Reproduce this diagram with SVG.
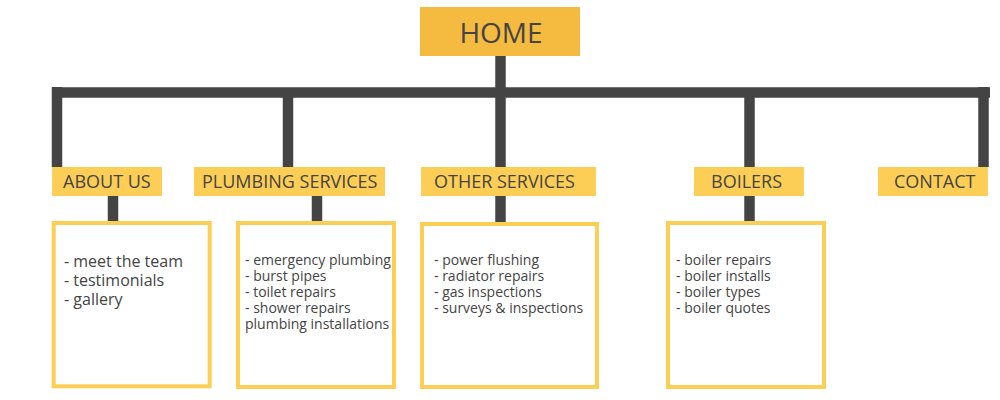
<svg xmlns="http://www.w3.org/2000/svg" width="1000" height="400" viewBox="0 0 1000 400">
<style>
  .wire{stroke:#444444;stroke-width:10.5;fill:none;stroke-linecap:butt}
  .label{fill:#FDCE55}
  .home{fill:#F5BB41}
  .box{fill:#FFFFFF;stroke:#FDCE55;stroke-width:4}
  text{font-family:"Open Sans","Noto Sans","Liberation Sans",sans-serif;fill:#444444}
  .lt{font-size:18px}
  .ht{font-size:28px}
  .big{font-size:16px}
  .sm{font-size:14px}
</style>
<rect width="1000" height="400" fill="#FFFFFF"/>
<g id="connectors">
  <line class="wire" x1="52" y1="92.5" x2="990" y2="92.5"/>
  <line class="wire" x1="500.5" y1="55" x2="500.5" y2="167"/>
  <line class="wire" x1="57" y1="87" x2="57" y2="167"/>
  <line class="wire" x1="288" y1="92" x2="288" y2="167"/>
  <line class="wire" x1="749.5" y1="92" x2="749.5" y2="167"/>
  <line class="wire" x1="983.5" y1="87" x2="983.5" y2="167"/>
  <line class="wire" x1="113" y1="195" x2="113" y2="222"/>
  <line class="wire" x1="317" y1="195" x2="317" y2="222"/>
  <line class="wire" x1="500.5" y1="195" x2="500.5" y2="222"/>
  <line class="wire" x1="749.5" y1="195" x2="749.5" y2="222"/>
</g>
<g id="home">
  <rect class="home" x="420" y="7" width="160" height="49"/>
  <text class="ht" x="501" y="43" text-anchor="middle">HOME</text>
</g>
<g id="about-us">
  <rect class="label" x="52" y="167" width="110" height="29"/>
  <text class="lt" x="63" y="188">ABOUT US</text>
</g>
<g id="plumbing-services">
  <rect class="label" x="194" y="167" width="191" height="29"/>
  <text class="lt" x="202" y="188">PLUMBING SERVICES</text>
</g>
<g id="other-services">
  <rect class="label" x="421" y="167" width="175" height="29"/>
  <text class="lt" x="434" y="188">OTHER SERVICES</text>
</g>
<g id="boilers">
  <rect class="label" x="694" y="167" width="110" height="29"/>
  <text class="lt" x="711" y="188">BOILERS</text>
</g>
<g id="contact">
  <rect class="label" x="878" y="167" width="110" height="29"/>
  <text class="lt" x="894" y="188">CONTACT</text>
</g>
<g id="about-us-list">
  <rect class="box" x="53.7" y="223" width="156" height="163.3"/>
  <text class="big" x="64" y="267">- meet the team</text>
  <text class="big" x="64" y="286">- testimonials</text>
  <text class="big" x="64" y="305">- gallery</text>
</g>
<g id="plumbing-services-list">
  <rect class="box" x="238" y="223" width="156" height="164"/>
  <text class="sm" x="245" y="265">- emergency plumbing</text>
  <text class="sm" x="245" y="281">- burst pipes</text>
  <text class="sm" x="245" y="297">- toilet repairs</text>
  <text class="sm" x="245" y="313">- shower repairs</text>
  <text class="sm" x="245" y="329">plumbing installations</text>
</g>
<g id="other-services-list">
  <rect class="box" x="422" y="224" width="175" height="163"/>
  <text class="sm" x="434" y="265">- power flushing</text>
  <text class="sm" x="434" y="281">- radiator repairs</text>
  <text class="sm" x="434" y="297">- gas inspections</text>
  <text class="sm" x="434" y="313">- surveys &amp; inspections</text>
</g>
<g id="boilers-list">
  <rect class="box" x="668" y="223" width="156" height="164"/>
  <text class="sm" x="676" y="265">- boiler repairs</text>
  <text class="sm" x="676" y="281">- boiler installs</text>
  <text class="sm" x="676" y="297">- boiler types</text>
  <text class="sm" x="676" y="313">- boiler quotes</text>
</g>
</svg>
